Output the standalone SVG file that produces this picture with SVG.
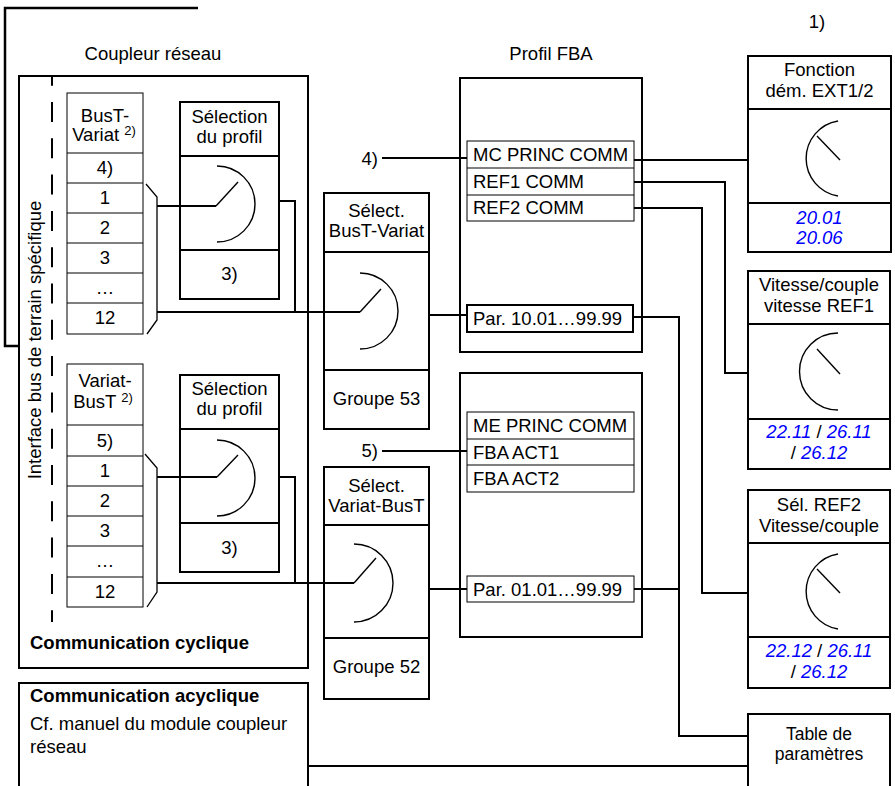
<svg xmlns="http://www.w3.org/2000/svg" width="895" height="786" viewBox="0 0 895 786">
<style>
text{font-family:"Liberation Sans",Arial,sans-serif;font-size:18.5px;fill:#000}
.m{text-anchor:middle}
.r{text-anchor:end}
.b{font-weight:bold}
.blue{fill:#0000ff;font-style:italic}
.sup{font-size:13px}
.sm{font-size:17.5px}
.box{fill:none;stroke:#000;stroke-width:2}
.thin{fill:none;stroke:#000;stroke-width:1}
.arc{fill:none;stroke:#000;stroke-width:1.4}
.wire{fill:none;stroke:#000;stroke-width:2}
</style>
<rect width="895" height="786" fill="#fff"/>

<g id="bracket-top">
<polyline class="wire" points="198,8 5,8 5,346 20,346" style="stroke-width:2.5"/>
</g>

<g id="coupleur-reseau">
<text class="m" x="153" y="60">Coupleur réseau</text>
<rect class="box" x="19" y="76" width="289" height="592"/>
<line x1="52" y1="77" x2="52" y2="622" stroke="#000" stroke-width="2" stroke-dasharray="20 16.3" stroke-dashoffset="11.3"/>
<text class="m" transform="translate(41,340) rotate(-90)">Interface bus de terrain spécifique</text>
<text class="b" x="30" y="649">Communication cyclique</text>
</g>

<g id="table-bust-variat">
<rect class="thin" x="67" y="93" width="76" height="241"/>
<path class="thin" d="M67,153H143M67,183H143M67,213H143M67,243H143M67,273H143M67,303H143"/>
<text class="m" x="105" y="122">BusT-</text>
<text class="m" x="104" y="141">Variat <tspan class="sup" dy="-6">2)</tspan></text>
<text class="m" x="105" y="174">4)</text>
<text class="m" x="105" y="204">1</text>
<text class="m" x="105" y="234">2</text>
<text class="m" x="105" y="264">3</text>
<text class="m" x="105" y="294">…</text>
<text class="m" x="105" y="324">12</text>
<polyline class="thin" points="146,184 157,197 157,320 147,334" style="stroke-width:1.3"/>
</g>

<g id="table-variat-bust">
<rect class="thin" x="67" y="364" width="76" height="243"/>
<path class="thin" d="M67,425H143M67,456H143M67,486H143M67,516H143M67,546H143M67,577H143"/>
<text class="m" x="105" y="387">Variat-</text>
<text class="m" x="103" y="408">BusT <tspan class="sup" dy="-6">2)</tspan></text>
<text class="m" x="105" y="447">5)</text>
<text class="m" x="105" y="477">1</text>
<text class="m" x="105" y="507">2</text>
<text class="m" x="105" y="537">3</text>
<text class="m" x="105" y="567">…</text>
<text class="m" x="105" y="598">12</text>
<polyline class="thin" points="145,454 157,468 157,592 147,607" style="stroke-width:1.3"/>
</g>

<g id="selection-profil-1">
<rect class="box" x="180" y="102" width="99" height="197"/>
<path class="box" d="M180,156H279M180,250H279"/>
<text class="m" x="229.5" y="123">Sélection</text>
<text class="m" x="229.5" y="143">du profil</text>
<text class="m" x="229.5" y="280">3)</text>
<path class="arc" d="M217,166A38,38 0 0 1 217,242"/>
<line class="arc" x1="216" y1="206" x2="238" y2="182"/>
</g>

<g id="selection-profil-2">
<rect class="box" x="180" y="375" width="99" height="197"/>
<path class="box" d="M180,429H279M180,523H279"/>
<text class="m" x="229.5" y="395">Sélection</text>
<text class="m" x="229.5" y="415">du profil</text>
<text class="m" x="229.5" y="554">3)</text>
<path class="arc" d="M217,440A38,38 0 0 1 217,516"/>
<line class="arc" x1="217" y1="477" x2="238" y2="455"/>
</g>

<g id="select-bust-variat">
<rect class="box" x="324" y="193" width="105" height="236"/>
<path class="box" d="M324,252H429M324,370H429"/>
<text class="m" x="376.5" y="217">Sélect.</text>
<text class="m" x="376.5" y="237">BusT-Variat</text>
<text class="m" x="376.5" y="405">Groupe 53</text>
<path class="arc" d="M360,273A38,38 0 0 1 360,349"/>
<line class="arc" x1="360" y1="312" x2="381" y2="289"/>
</g>

<g id="select-variat-bust">
<rect class="box" x="324" y="467" width="105" height="232"/>
<path class="box" d="M324,525H429M324,638H429"/>
<text class="m" x="376.5" y="492">Sélect.</text>
<text class="m" x="376.5" y="512">Variat-BusT</text>
<text class="m" x="376.5" y="673">Groupe 52</text>
<path class="arc" d="M354,544A39,39 0 0 1 354,622"/>
<line class="arc" x1="354" y1="583" x2="376" y2="558"/>
</g>

<g id="profil-fba-1">
<text class="m" x="551" y="60">Profil FBA</text>
<rect class="box" x="460" y="78" width="182" height="274"/>
<rect class="thin" x="467" y="141" width="167" height="80"/>
<path class="thin" d="M467,168H634M467,195H634"/>
<text x="473" y="161">MC PRINC COMM</text>
<text x="473" y="188">REF1 COMM</text>
<text x="473" y="214">REF2 COMM</text>
<rect class="box" x="467" y="305" width="166" height="27"/>
<text x="473" y="325">Par. 10.01…99.99</text>
</g>

<g id="profil-fba-2">
<rect class="box" x="460" y="373" width="182" height="264"/>
<rect class="thin" x="467" y="412" width="167" height="80"/>
<path class="thin" d="M467,439H634M467,465H634"/>
<text x="473" y="432">ME PRINC COMM</text>
<text x="473" y="459">FBA ACT1</text>
<text x="473" y="485">FBA ACT2</text>
<rect class="thin" x="467" y="576" width="167" height="26"/>
<text x="473" y="596">Par. 01.01…99.99</text>
</g>

<g id="label-4"><text class="r" x="378" y="165">4)</text></g>
<g id="label-5"><text class="r" x="378" y="457">5)</text></g>
<g id="label-1"><text class="m" x="817" y="28">1)</text></g>

<g id="fonction-dem">
<rect class="box" x="748" y="56" width="143" height="196"/>
<path class="box" d="M748,109H891M748,203H891"/>
<text class="m" x="819.5" y="76">Fonction</text>
<text class="m" x="819.5" y="97">dém. EXT1/2</text>
<path class="arc" d="M838,121A38,38 0 0 0 838,196"/>
<line class="arc" x1="817" y1="136" x2="840" y2="160"/>
<text class="m blue" x="819.5" y="224">20.01</text>
<text class="m blue" x="819.5" y="244">20.06</text>
</g>

<g id="vitesse-ref1">
<rect class="box" x="748" y="271" width="142" height="198"/>
<path class="box" d="M748,324H890M748,419H890"/>
<text class="m" x="819" y="291">Vitesse/couple</text>
<text class="m" x="819" y="312">vitesse REF1</text>
<path class="arc" d="M838,333A38,38 0 0 0 838,410"/>
<line class="arc" x1="817" y1="349" x2="840" y2="374"/>
<text class="m" x="819" y="438"><tspan class="blue">22.11</tspan> / <tspan class="blue">26.11</tspan></text>
<text class="m" x="819" y="459">/ <tspan class="blue">26.12</tspan></text>
</g>

<g id="sel-ref2">
<rect class="box" x="748" y="490" width="142" height="198"/>
<path class="box" d="M748,543H890M748,637H890"/>
<text class="m" x="819" y="511">Sél. REF2</text>
<text class="m" x="819" y="532">Vitesse/couple</text>
<path class="arc" d="M838,554A38,38 0 0 0 838,629"/>
<line class="arc" x1="817" y1="569" x2="840" y2="593"/>
<text class="m" x="819" y="657"><tspan class="blue">22.12</tspan> / <tspan class="blue">26.11</tspan></text>
<text class="m" x="819" y="678">/ <tspan class="blue">26.12</tspan></text>
</g>

<g id="table-parametres">
<path class="box" d="M748,800V714H890V800"/>
<text class="m sm" x="819" y="740">Table de</text>
<text class="m sm" x="819" y="760">paramètres</text>
</g>

<g id="communication-acyclique">
<path class="box" d="M19,800V683H308V800"/>
<text class="b" x="30" y="702">Communication acyclique</text>
<text x="30" y="730">Cf. manuel du module coupleur</text>
<text x="30" y="753">réseau</text>
</g>

<g id="connectors">
<line class="wire" x1="157" y1="206" x2="216" y2="206"/>
<line class="wire" x1="157" y1="477" x2="217" y2="477"/>
<polyline class="wire" points="279,201 295,201 295,312"/>
<line class="wire" x1="157" y1="312" x2="360" y2="312"/>
<polyline class="wire" points="279,477 295,477 295,583"/>
<line class="wire" x1="157" y1="583" x2="354" y2="583"/>
<line class="wire" x1="429" y1="315" x2="467" y2="315"/>
<line class="wire" x1="429" y1="589" x2="467" y2="589"/>
<line class="wire" x1="382" y1="158" x2="467" y2="158"/>
<line class="wire" x1="382" y1="451" x2="467" y2="451"/>
<line class="wire" x1="634" y1="160" x2="748" y2="160"/>
<polyline class="wire" points="634,182 725,182 725,373 748,373"/>
<polyline class="wire" points="634,208 702,208 702,593 748,593"/>
<polyline class="wire" points="633,317 679,317 679,736 748,736"/>
<line class="wire" x1="634" y1="589" x2="679" y2="589"/>
<line class="wire" x1="308" y1="766" x2="748" y2="766"/>
</g>
</svg>
